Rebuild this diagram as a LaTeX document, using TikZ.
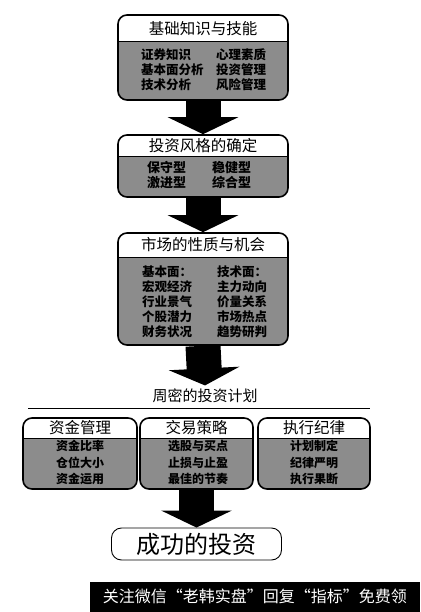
\documentclass[tikz,border=0pt]{standalone}
\usepackage{fontspec}
\setmainfont{Noto Sans CJK SC}
\usetikzlibrary{arrows.meta}

\begin{document}
\begin{tikzpicture}[x=1pt,y=-1pt,
    panel/.style={draw,line width=1.6pt,rounded corners=9pt,fill=black!45,
      path picture={
        \fill[white,sharp corners] (path picture bounding box.north west) rectangle ([yshift=-#1]path picture bounding box.north east);
        \draw[line width=1pt,sharp corners] ([yshift=-#1]path picture bounding box.north west) -- ([yshift=-#1]path picture bounding box.north east);}},
    panel/.default=24pt,
    head/.style={font=\fontsize{15.5}{15.5}\selectfont},
    body/.style={font=\fontsize{12.5}{15}\selectfont\bfseries,align=left,inner sep=0pt,anchor=west},
    cbody/.style={font=\fontsize{12}{16.5}\selectfont\bfseries,align=center,inner sep=0pt},
    bigarrow/.style={line width=35pt,-{Triangle[width=70pt,length=17pt]}}]
  \path[use as bounding box,fill=white] (0,0) rectangle (420,612);
  % basic knowledge
  \node[panel=27pt,minimum width=170pt,minimum height=85pt] (f1) at (203,57.5) {};
  \node[head] (h1) at (203,28.5) {基础知识与技能};
  \node[body] (l1) at (141,70) {证券知识\\基本面分析\\技术分析};
  \node[body] (r1) at (216,70) {心理素质\\投资管理\\风险管理};
  % style
  \node[panel=22pt,minimum width=170pt,minimum height=62pt] (f2) at (203,166) {};
  \node[head] (h2) at (203,146) {投资风格的确定};
  \node[body,font=\fontsize{13}{14.5}\selectfont\bfseries] (l2) at (147,175) {保守型\\激进型};
  \node[body,font=\fontsize{13}{14.5}\selectfont\bfseries] (r2) at (212,175) {稳健型\\综合型};
  % market
  \node[panel=24pt,minimum width=170pt,minimum height=112pt] (f3) at (203,289) {};
  \node[head] (h3) at (203,245) {市场的性质与机会};
  \node[body] (l3) at (142,302) {基本面：\\宏观经济\\行业景气\\个股潜力\\财务状况};
  \node[body] (r3) at (217,302) {技术面：\\主力动向\\价量关系\\市场热点\\趋势研判};
  % plan
  \node[head,font=\fontsize{15}{15}\selectfont] (plan) at (205,396) {周密的投资计划};
  \draw[line width=1pt] (28,408) -- (370,408);
  \node[panel=20pt,minimum width=114pt,minimum height=71pt] (fa) at (80,453.5) {};
  \node[head] (ha) at (80,428) {资金管理};
  \node[cbody] (ba) at (80,462.5) {资金比率\\仓位大小\\资金运用};
  \node[panel=20pt,minimum width=113pt,minimum height=71pt] (fb) at (196.5,453.5) {};
  \node[head] (hb) at (196.5,428) {交易策略};
  \node[cbody] (bb) at (198,462.5) {选股与买点\\止损与止盈\\最佳的节奏};
  \node[panel=20pt,minimum width=112pt,minimum height=71pt] (fc) at (314,453.5) {};
  \node[head] (hc) at (314,428) {执行纪律};
  \node[cbody] (bc) at (314,462.5) {计划制定\\纪律严明\\执行果断};
  % result
  \node[draw,line width=0.9pt,rounded corners=10pt,minimum width=170pt,minimum height=32pt,
        font=\fontsize{24}{24}\selectfont] (goal) at (196.5,544) {成功的投资};
  \draw[bigarrow] (f1.south) -- (f2.north);
  \draw[bigarrow] (f2.south) -- (f3.north);
  \draw[bigarrow] (f3.south) -- (plan.north);
  \draw[bigarrow] (fb.south) -- (goal.north);
  \node[fill=black,text=white,anchor=south east,minimum width=330pt,minimum height=30pt,inner sep=0pt,
        font=\fontsize{16}{16}\selectfont] (wm) at (420,612) {关注微信“老韩实盘”回复“指标”免费领};
\end{tikzpicture}
\end{document}
